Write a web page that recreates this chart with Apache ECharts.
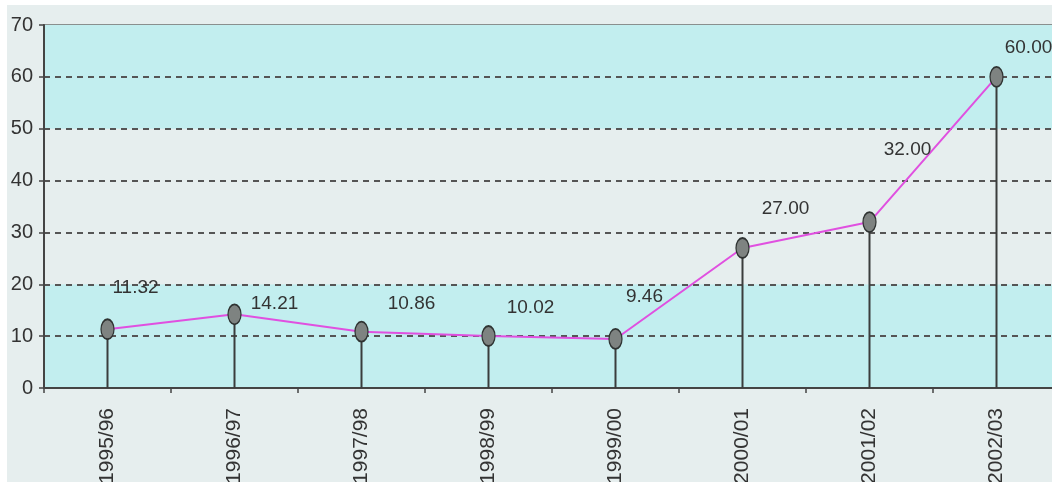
<!DOCTYPE html>
<html>
<head>
<meta charset="utf-8">
<script src="https://cdn.jsdelivr.net/npm/echarts@6/dist/echarts.min.js"></script>
<style>
html,body{margin:0;padding:0;background:#ffffff;overflow:hidden;}
#wrap{position:absolute;left:7px;top:5px;width:1045px;height:477px;overflow:hidden;}
#c{position:absolute;left:0;top:0;width:1053px;height:477px;}
</style>
</head>
<body>
<div id="wrap"><div id="c"></div></div>
<script>
var categories = ['1995/96','1996/97','1997/98','1998/99','1999/00','2000/01','2001/02','2002/03'];
var values = [11.32, 14.21, 10.86, 10.02, 9.46, 27.00, 32.00, 60.00];
var valueLabels = ['11.32','14.21','10.86','10.02','9.46','27.00','32.00','60.00'];
var yTicks = [0, 10, 20, 30, 40, 50, 60, 70];
// label placement style (label centre offset in px from the marker)
var labelOffsets = [[28,-42],[40,-11],[50,-28],[42,-28],[29,-42],[43,-39],[38,-72],[32,-29]];

var FONT = "'Liberation Sans',Arial,sans-serif";
var chart = echarts.init(document.getElementById('c'));
var lineData = values.map(function(v, i){
  return {value: v, label: {offset: labelOffsets[i], formatter: valueLabels[i]}};
});
chart.setOption({
  backgroundColor: '#e6eeee',
  animation: false,
  grid: {left: 37, right: 0, top: 20, bottom: 94, outerBoundsMode: 'none', containLabel: false, show: true, borderColor: '#8a8f8e', borderWidth: 2, backgroundColor: 'transparent'},
  xAxis: {
    type: 'category', data: categories, boundaryGap: true,
    axisLine: {lineStyle: {color: '#444', width: 2}},
    axisTick: {show: true, length: 5, lineStyle: {color: '#444', width: 1.5}},
    axisLabel: {rotate: 90, margin: 20, color: '#333', fontSize: 21, fontFamily: FONT}
  },
  yAxis: {
    type: 'value', min: yTicks[0], max: yTicks[yTicks.length-1], interval: 10,
    axisLine: {show: true, lineStyle: {color: '#444', width: 2}},
    axisTick: {show: true, length: 5, lineStyle: {color: '#444', width: 1.5}},
    axisLabel: {margin: 11, color: '#333', fontSize: 20, fontFamily: FONT},
    splitLine: {show: true, showMinLine: false, showMaxLine: false, lineStyle: {color: '#555', width: 2, type: [6,5]}},
    splitArea: {show: true, areaStyle: {color: ['#c2eeef','#c2eeef','#e6eeee','#e6eeee','#e6eeee','#c2eeef','#c2eeef']}}
  },
  series: [
    {
      type: 'bar', data: values, barWidth: 2, z: 2,
      itemStyle: {color: '#3a3d3c'}, silent: true
    },
    {
      type: 'line', data: lineData, z: 3,
      lineStyle: {color: '#e050e0', width: 2},
      symbol: 'circle', symbolSize: [13, 20],
      itemStyle: {color: '#7e8381', borderColor: '#2f3332', borderWidth: 1.5},
      label: {show: true, position: 'inside', align: 'center', verticalAlign: 'middle', color: '#333', fontSize: 19, fontFamily: FONT}
    }
  ]
});
</script>
</body>
</html>
